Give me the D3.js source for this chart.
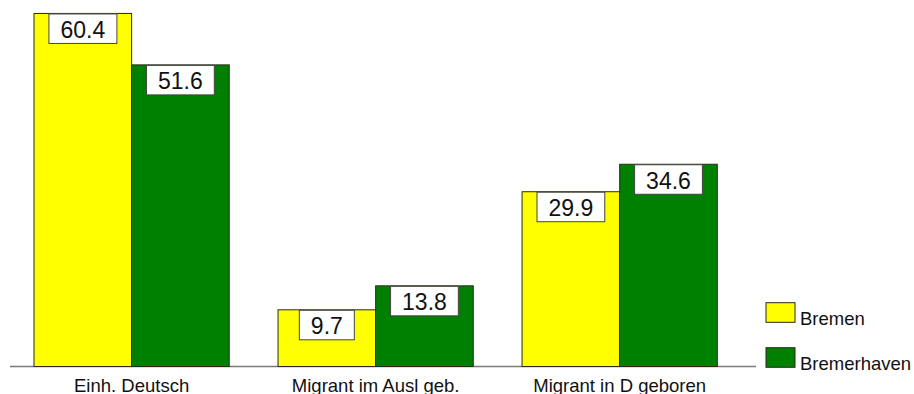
<!DOCTYPE html>
<html>
<head>
<meta charset="utf-8">
<script src="https://cdn.jsdelivr.net/npm/d3@7"></script>
<style>
  html, body { margin: 0; padding: 0; background: #fff; }
  svg { display: block; }
  text { font-family: "Liberation Sans", Arial, sans-serif; fill: #111; }
</style>
</head>
<body>
<svg id="chart" width="914" height="394"></svg>
<script>
// Data
const categories = ["Einh. Deutsch", "Migrant im Ausl geb.", "Migrant in D geboren"];
const seriesNames = ["Bremen", "Bremerhaven"];
const bremen = [60.4, 9.7, 29.9];
const bremerhaven = [51.6, 13.8, 34.6];
const colors = ["#ffff00", "#008000"];

const rows = categories.map((c, i) => ({
  category: c,
  values: [
    { series: seriesNames[0], value: bremen[i] },
    { series: seriesNames[1], value: bremerhaven[i] }
  ]
}));

const svg = d3.select("#chart");
const baseY = 366.5;

const x0 = d3.scaleBand()
  .domain(categories)
  .range([34, 717.3])
  .paddingInner(0.2)
  .paddingOuter(0);

const x1 = d3.scaleBand()
  .domain(seriesNames)
  .range([0, x0.bandwidth()])
  .padding(0);

const y = d3.scaleLinear()
  .domain([0, 62.7])
  .range([baseY, 0]);

const color = d3.scaleOrdinal().domain(seriesNames).range(colors);

// Baseline
svg.append("line")
  .attr("x1", 10).attr("x2", 756)
  .attr("y1", baseY).attr("y2", baseY)
  .attr("stroke", "#7a7a7a")
  .attr("stroke-width", 1.5);

const groups = svg.selectAll("g.group")
  .data(rows)
  .join("g")
  .attr("class", "group")
  .attr("transform", d => `translate(${x0(d.category)},0)`);

// Bars
groups.selectAll("rect.bar")
  .data(d => d.values)
  .join("rect")
  .attr("class", "bar")
  .attr("x", d => x1(d.series))
  .attr("y", d => y(d.value))
  .attr("width", x1.bandwidth())
  .attr("height", d => baseY - y(d.value))
  .attr("fill", d => color(d.series))
  .attr("stroke", "#2a2a1a")
  .attr("stroke-width", 1);

// Value labels in white boxes at the top of each bar
const labelSize = 23;
const lab = groups.selectAll("g.vlabel")
  .data(d => d.values)
  .join("g")
  .attr("class", "vlabel");

lab.append("text")
  .attr("x", d => x1(d.series) + x1.bandwidth() / 2)
  .attr("y", d => y(d.value) + 24.5)
  .attr("text-anchor", "middle")
  .style("font-size", labelSize + "px")
  .text(d => d.value.toFixed(1));

lab.each(function() {
  const g = d3.select(this);
  const t = g.select("text");
  const bb = t.node().getBBox();
  const d = g.datum();
  const w = bb.width + 23;
  g.insert("rect", "text")
    .attr("x", bb.x + bb.width / 2 - w / 2)
    .attr("y", y(d.value) + 0.5)
    .attr("width", w)
    .attr("height", 29.5)
    .attr("fill", "#fff")
    .attr("stroke", "#444")
    .attr("stroke-width", 1);
});

// Category labels
svg.selectAll("text.cat")
  .data(categories)
  .join("text")
  .attr("class", "cat")
  .attr("x", d => x0(d) + x0.bandwidth() / 2)
  .attr("y", 391.5)
  .attr("text-anchor", "middle")
  .style("font-size", "18.5px")
  .text(d => d);

// Legend
const legend = svg.selectAll("g.legend")
  .data(seriesNames)
  .join("g")
  .attr("class", "legend")
  .attr("transform", (d, i) => `translate(766,${302.7 + i * 45})`);

legend.append("rect")
  .attr("width", 29)
  .attr("height", 19.6)
  .attr("fill", d => color(d))
  .attr("stroke", "#2a2a1a")
  .attr("stroke-width", 1);

legend.append("text")
  .attr("x", 34)
  .attr("y", 22)
  .style("font-size", "18.5px")
  .text(d => d);
</script>
</body>
</html>
